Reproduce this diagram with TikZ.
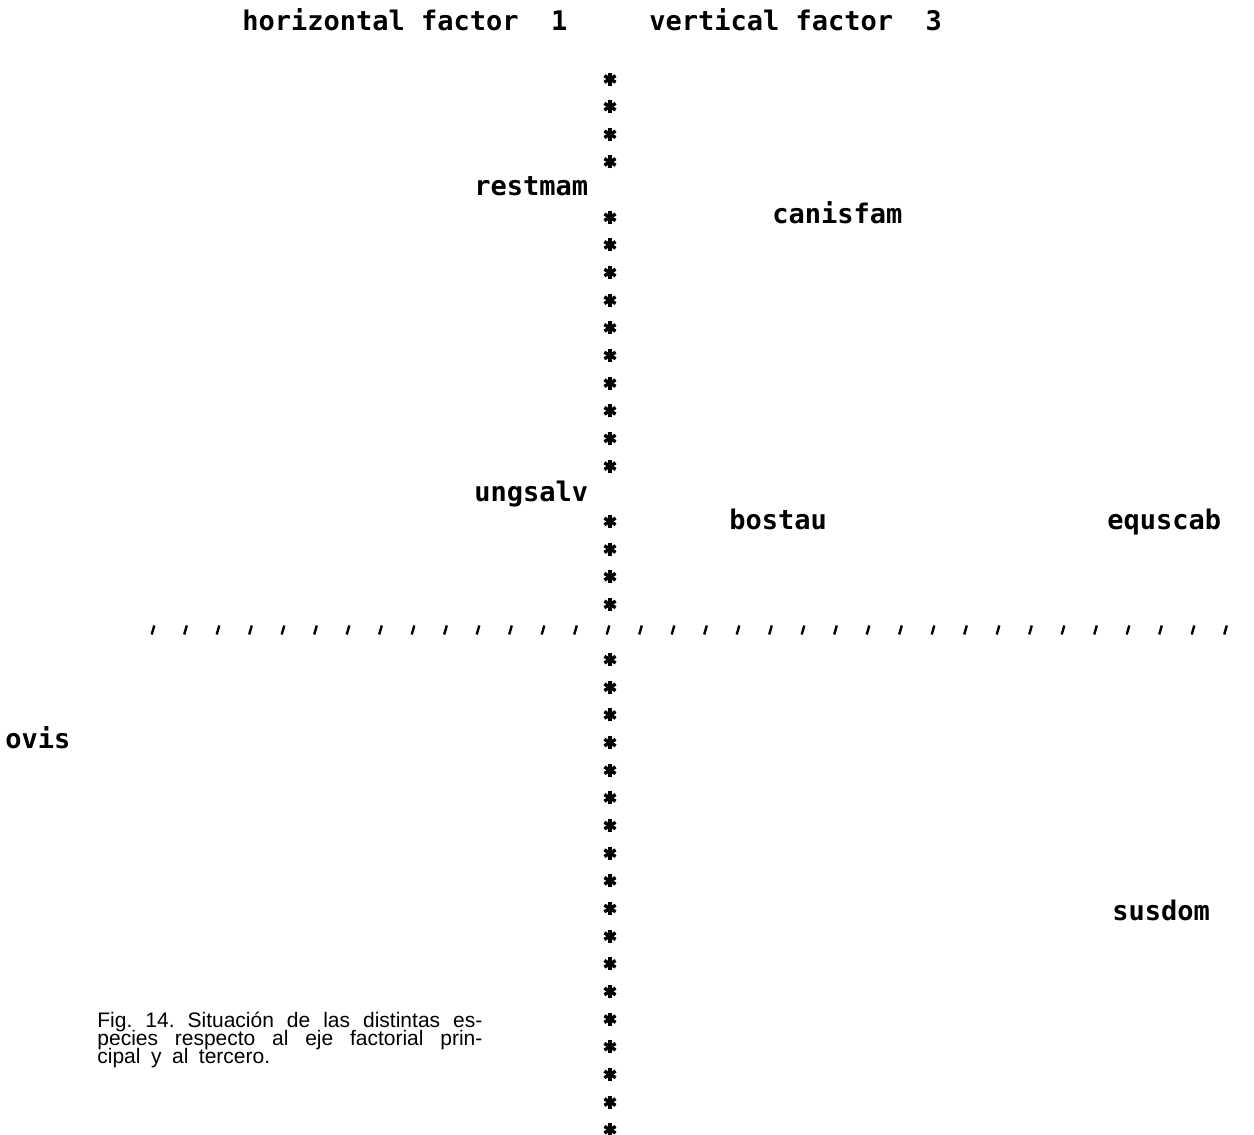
\documentclass[tikz,border=0pt]{standalone}
\usepackage{fontspec}
\newfontfamily\plotfont{DejaVu Sans Mono}
\newfontfamily\capfont{Liberation Sans}
\begin{document}
\begin{tikzpicture}[x=0.5pt,y=-0.5pt,
    plotlabel/.style={font=\plotfont\bfseries\fontsize{13.5pt}{14pt}\selectfont, anchor=base west, inner sep=0pt},
    starline/.style={line width=1.7pt},
    tickline/.style={line width=1.2pt}]
  \useasboundingbox (0,0) rectangle (1254,1135);
  % title line
  \node[plotlabel] (htitle) at (242,31) {horizontal factor\ \ 1};
  \node[plotlabel] (vtitle) at (649,31) {vertical factor\ \ 3};
  % vertical axis, one star per row
  \foreach \k in {0,1,2,3,5,6,7,8,9,10,11,12,13,14,16,17,18,19,21,22,23,24,25,26,27,28,29,30,31,32,33,34,35,36,37,38} {
    \begin{scope}[shift={(610,79+27.65*\k)}]
      \fill (0,0) circle (3.5);
      \foreach \a in {90,30,150}
        \draw[starline] (\a:6.5) -- ({\a+180}:6.5);
    \end{scope}
  }
  % horizontal axis ticks
  \foreach \j in {-14,...,19}
    \draw[tickline] (608+32.5*\j-1.3,634.5) -- (608+32.5*\j+1.3,625.5);
  % species
  \node[plotlabel] (restmam) at (474,195) {restmam};
  \node[plotlabel] (canisfam) at (772,223) {canisfam};
  \node[plotlabel] (ungsalv) at (474,501) {ungsalv};
  \node[plotlabel] (bostau) at (729,529) {bostau};
  \node[plotlabel] (equscab) at (1107,529) {equscab};
  \node[plotlabel] (ovis) at (5,748) {ovis};
  \node[plotlabel] (susdom) at (1112,920) {susdom};
  % caption
  \node[font=\capfont\fontsize{10.5pt}{9pt}\selectfont, text width=192.5pt,
    align=justify, anchor=north west, inner sep=0pt] (caption) at (97,1012)
    {\fontsize{10.5pt}{9pt}\selectfont\baselineskip=9pt\lineskiplimit=-100pt\lineskip=0pt
     \frenchspacing\spaceskip=0.5em plus 0.5em minus 0.1em\relax
     Fig. 14. Situación de las distintas es-\linebreak pecies respecto al eje factorial prin-\linebreak cipal y al tercero.\par};
\end{tikzpicture}
\end{document}
